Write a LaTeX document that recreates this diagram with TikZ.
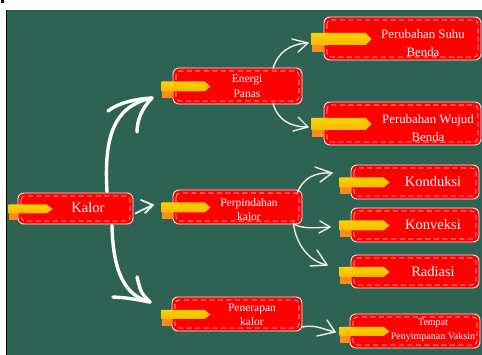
\documentclass[tikz,border=0pt]{standalone}
\usepackage{fontspec}
\setmainfont{Liberation Serif}
\usetikzlibrary{calc}
\definecolor{board}{HTML}{2E6354}
\definecolor{cardred}{HTML}{FF0000}
\definecolor{tabyl}{HTML}{FFD200}
\definecolor{tabyd}{HTML}{F5B800}
\definecolor{tabor}{HTML}{FF8C1A}
\definecolor{cardline}{HTML}{FFE0E0}
\definecolor{chalk}{HTML}{E8EFEC}
\tikzset{
 card/.style={draw=cardline, line width=0.9pt, fill=cardred, rounded corners=6pt, inner sep=0pt,
   path picture={\draw[cardline, line width=0.6pt, dash pattern=on 5pt off 3.5pt, rounded corners=4pt]
     ([shift={(3pt,-3pt)}]path picture bounding box.north west) rectangle ([shift={(-3pt,3pt)}]path picture bounding box.south east);}},
 lbl/.style={text=white, align=center, inner sep=0pt},
 bigarrow/.style={draw=white, line width=3.4pt, line cap=round, line join=round},
 midarrow/.style={draw=chalk, line width=1.8pt, line cap=round, line join=round},
 thinarrow/.style={draw=chalk, line width=1.4pt, line cap=round, line join=round},
}
% name, overhang, length, height
\newcommand\tabmark[4]{%
 \coordinate (#1-tl) at ($(#1.west)+(-#2,0.5)$);
 \fill[tabor] (#1-tl) rectangle ($(#1.west)+(0,#4/2+7.5)$);
 \shade[top color=tabyl, bottom color=tabyd] ($(#1-tl)+(0,-#4/2)$) -- ++(#3-6,0) -- ++(6,#4/2) -- ++(-6,#4/2) -- ($(#1-tl)+(0,#4/2)$) -- cycle;
}
\begin{document}
\begin{tikzpicture}[x=1pt,y=-1pt]
\useasboundingbox (0,0) rectangle (482,355);
\fill[white] (0,0) rectangle (482,355);
\fill[board] (6,10) rectangle (482,355);
\fill[black] (6,10) rectangle (7.4,355);
\fill[black] (0.5,0.5) rectangle (3.5,3.5);

% cards
\node[card, minimum width=115pt, minimum height=31pt] (kalor) at (75.5,208.5) {};
\node[card, minimum width=129pt, minimum height=36pt] (energi) at (237.5,86) {};
\node[card, minimum width=157pt, minimum height=43pt] (suhu) at (402.5,38.5) {};
\node[card, minimum width=157pt, minimum height=43pt] (wujud) at (402.5,123.5) {};
\node[card, minimum width=129pt, minimum height=34pt] (pindah) at (237.5,207) {};
\node[card, minimum width=128pt, minimum height=34pt] (konduksi) at (415,182) {};
\node[card, minimum width=128pt, minimum height=34pt] (konveksi) at (415,225) {};
\node[card, minimum width=128pt, minimum height=33pt] (radiasi) at (415,271.5) {};
\node[card, minimum width=130pt, minimum height=34pt] (terap) at (237,314) {};
\node[card, minimum width=130pt, minimum height=34pt] (tempat) at (415,331) {};

% tabs
\tabmark{kalor}{9}{44}{9}
\tabmark{energi}{11}{49}{10}
\tabmark{suhu}{12}{60}{12}
\tabmark{wujud}{12}{60}{12}
\tabmark{pindah}{11}{49}{10}
\tabmark{konduksi}{11}{50}{10}
\tabmark{konveksi}{11}{50}{10}
\tabmark{radiasi}{11}{50}{10}
\tabmark{terap}{10}{49}{9}
\tabmark{tempat}{10}{50}{9}

% labels
\node[lbl, font=\fontsize{14.5}{17}\selectfont] (kalor-t) at (88,208) {Kalor};
\node[lbl, font=\fontsize{11.5}{15}\selectfont] (energi-t) at (247,86) {Energi\\Panas};
\node[lbl, font=\fontsize{12.8}{18}\selectfont] (suhu-t) at (423,43) {Perubahan Suhu\\Benda};
\node[lbl, font=\fontsize{12.8}{18}\selectfont] (wujud-t) at (428,128) {Perubahan Wujud\\Benda};
\node[lbl, font=\fontsize{11.5}{14}\selectfont] (pindah-t) at (249,210) {Perpindahan\\kalor};
\node[lbl, font=\fontsize{14.5}{17}\selectfont] (konduksi-t) at (433,182) {Konduksi};
\node[lbl, font=\fontsize{14.5}{17}\selectfont] (konveksi-t) at (433,225) {Konveksi};
\node[lbl, font=\fontsize{14.5}{17}\selectfont] (radiasi-t) at (433,272) {Radiasi};
\node[lbl, font=\fontsize{11.5}{14}\selectfont] (terap-t) at (252,315) {Penerapan\\kalor};
\node[lbl, font=\fontsize{10}{14}\selectfont] (tempat-t) at (433,330) {Tempat\\Penyimpanan Vaksin};

% tips
\coordinate (t-energi) at (152,98);
\coordinate (t-terap) at (150,302);
\coordinate (t-pindah) at (153,205);
\coordinate (t-suhu) at (308,43);
\coordinate (t-wujud) at (308,127);
\coordinate (t-konduksi) at (332,173);
\coordinate (t-konveksi) at (330,227);
\coordinate (t-radiasi) at (327,265);
\coordinate (t-tempat) at (335,332);

% Kalor -> Energi
\draw[bigarrow] ($(kalor.north)+(31.5,-1)$) .. controls (104,140) and (112,106) .. (t-energi);
\draw[bigarrow] (108,111) .. controls (118,103) and (135,99) .. (t-energi) .. controls (142,108) and (137,120) .. (137,132);
% Kalor -> Penerapan
\draw[bigarrow] ($(kalor.south)+(36.5,1)$) .. controls (113,272) and (125,296) .. (t-terap);
\draw[bigarrow] (113,297) .. controls (128,298) .. (t-terap) .. controls (141,293) .. (137,277);
% Kalor -> Perpindahan
\draw[midarrow] ($(kalor.east)+(2,5)$) .. controls (142,210) .. (t-pindah);
\draw[midarrow] (141,200) -- (t-pindah) -- (145,213);
% Energi -> Suhu / Wujud
\draw[thinarrow] ($(energi.north)+(35.5,1)$) .. controls (278,52) and (290,44) .. (t-suhu);
\draw[thinarrow] (292,39) -- (t-suhu) -- (298,52);
\draw[thinarrow] ($(energi.south)+(35.5,-1)$) .. controls (278,120) and (290,127) .. (t-wujud);
\draw[thinarrow] (298,117) -- (t-wujud) -- (293,131);
% Perpindahan -> Konduksi / Konveksi / Radiasi
\draw[thinarrow] ($(pindah.north east)+(-5,3)$) .. controls (303,178) and (315,172) .. (t-konduksi);
\draw[thinarrow] (315,167) -- (t-konduksi) -- (320,182);
\draw[thinarrow] ($(pindah.south east)+(-9,-1)$) .. controls (300,229) and (315,228) .. (t-konveksi);
\draw[thinarrow] (320,221) -- (t-konveksi) -- (319,233);
\draw[thinarrow] ($(pindah.south east)+(-9,-1)$) .. controls (296,245) and (310,262) .. (t-radiasi);
\draw[thinarrow] (317,250) -- (t-radiasi) -- (310,266);
% Penerapan -> Tempat
\draw[thinarrow] ($(terap.east)+(0,13)$) .. controls (315,324) and (325,330) .. (t-tempat);
\draw[thinarrow] (327,320) -- (t-tempat) -- (317,336);
\end{tikzpicture}
\end{document}
